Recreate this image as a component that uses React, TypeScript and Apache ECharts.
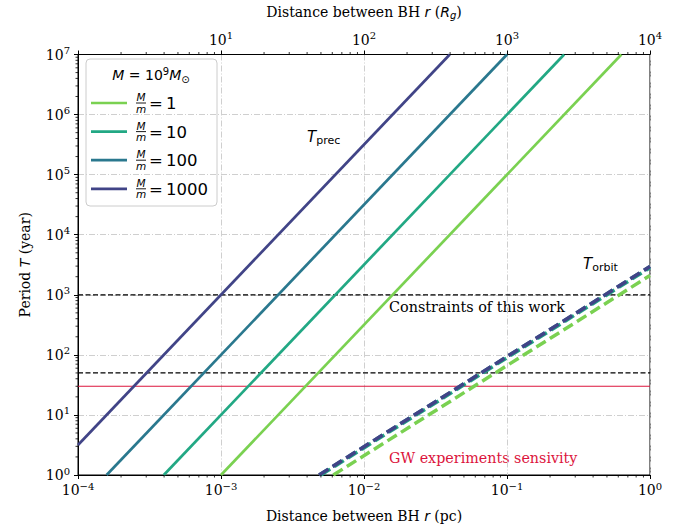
import React, { useEffect, useRef } from 'react';
import * as echarts from 'echarts';

// ---------- data ----------
const massRatios = ['1', '10', '100', '1000'];
const lineColors = ['#7ad151', '#22a884', '#2a788e', '#414487'];
// precession period lines (log-log straight lines): start / end points [r(pc), T(yr)]
const precStart = [[1e-3, 1], [3.98e-4, 1], [1.585e-4, 1], [1e-4, 3.16]];
const precEnd = [[0.631, 1e7], [0.251, 1e7], [0.1, 1e7], [0.0398, 1e7]];
// orbital period lines
const orbitStart = [[0.0061, 1], [0.005, 1], [0.00486, 1], [0.00485, 1]];
const orbitEnd = [[1, 2095], [1, 2824], [1, 2947], [1, 2962]];
// horizontal reference lines
const constraintLevels = [1000, 50];
const gwLevel = 30;
const xRange = [1e-4, 1];
const yRange = [1, 1e7];
const topRange = [1, 1e4];

const serif = 'DejaVu Serif';
const sans = 'DejaVu Sans';

const expLabel = (v: number, hideZero = false) => {
  const e = Math.round(Math.log10(v));
  if (hideZero && e === 0) return '';
  const s = e < 0 ? '\u2212' + Math.abs(e) : String(e);
  return `{b|10}{s|${s}}`;
};
const labelRich = {
  b: { fontFamily: serif, fontSize: 14, color: '#000', lineHeight: 18 },
  s: { fontFamily: serif, fontSize: 10, color: '#000', padding: [0, 0, 8, 0] },
};

function minorTicks() {
  const out: number[][] = [];
  const mult = [2, 3, 4, 5, 6, 7, 8, 9];
  for (let e = -4; e < 0; e++) {
    for (const m of mult) {
      const v = m * Math.pow(10, e);
      out.push([v, yRange[0], 0]);
      out.push([v, yRange[1], 1]);
    }
  }
  for (let e = 0; e < 7; e++) {
    for (const m of mult) out.push([xRange[0], m * Math.pow(10, e), 2]);
  }
  return out;
}

export default function App() {
  const ref = useRef<HTMLDivElement>(null);
  useEffect(() => {
    if (!ref.current) return;
    const chart = echarts.init(ref.current, undefined, { renderer: 'svg' });

    const series: any[] = [];
    const axisLineStyle = { color: '#000', width: 1 };
    const gridLine = { show: true, lineStyle: { color: '#cfcfcf', width: 1, type: [6, 2, 1, 2] } };

    // reference lines
    constraintLevels.forEach((lv) => {
      series.push({
        type: 'line', data: [[xRange[0], lv], [xRange[1], lv]], showSymbol: false, silent: true,
        lineStyle: { color: '#000', width: 1.3, type: [5, 2.5] }, z: 3,
      });
    });
    series.push({
      type: 'line', data: [[xRange[0], gwLevel], [xRange[1], gwLevel]], showSymbol: false, silent: true,
      lineStyle: { color: '#dc143c', width: 1.2 }, z: 3,
    });
    // precession
    massRatios.forEach((_, i) => {
      series.push({
        type: 'line', data: [precStart[i], precEnd[i]], showSymbol: false, silent: true,
        lineStyle: { color: lineColors[i], width: 2.7 }, z: 4,
      });
    });
    // orbit
    massRatios.forEach((_, i) => {
      series.push({
        type: 'line', data: [orbitStart[i], orbitEnd[i]], showSymbol: false, silent: true,
        lineStyle: { color: lineColors[i], width: 3.5, type: [11, 5] }, z: 4,
      });
    });
    // minor ticks
    series.push({
      type: 'custom', coordinateSystem: 'cartesian2d', clip: false, silent: true, z: 6,
      dimensions: ['x', 'y', 'k'], encode: { x: 0, y: 1 },
      data: minorTicks(),
      renderItem: (_p: any, api: any) => {
        const pt = api.coord([api.value(0), api.value(1)]);
        const k = api.value(2);
        let shape;
        if (k === 0) shape = { x1: pt[0], y1: pt[1], x2: pt[0], y2: pt[1] + 2.5 };
        else if (k === 1) shape = { x1: pt[0], y1: pt[1], x2: pt[0], y2: pt[1] - 2.5 };
        else shape = { x1: pt[0] - 2.5, y1: pt[1], x2: pt[0], y2: pt[1] };
        return { type: 'line', shape, style: { stroke: '#000', lineWidth: 0.8 } };
      },
    });

    // legend (manual)
    const legendChildren: any[] = [
      {
        type: 'rect', shape: { x: 86, y: 59, width: 131, height: 147, r: 4 },
        style: { fill: 'rgba(255,255,255,0.85)', stroke: '#cccccc', lineWidth: 1 },
      },
      {
        type: 'text', x: 151, y: 75,
        style: {
          text: '{i|M}{n| = 10}{sup|9}{i|M}{sub|\u2299}', align: 'center', verticalAlign: 'middle',
          rich: {
            i: { fontFamily: sans, fontStyle: 'italic', fontSize: 14, fill: '#000', lineHeight: 18 },
            n: { fontFamily: sans, fontSize: 14, fill: '#000', lineHeight: 18 },
            sup: { fontFamily: sans, fontSize: 10, fill: '#000', padding: [0, 0, 8, 0] },
            sub: { fontFamily: sans, fontSize: 10, fill: '#000', padding: [8, 0, 0, 0] },
          },
        },
      },
    ];
    massRatios.forEach((r, i) => {
      const y = 103 + i * 28.6;
      legendChildren.push(
        { type: 'line', shape: { x1: 91, y1: y, x2: 127, y2: y }, style: { stroke: lineColors[i], lineWidth: 2.7 } },
        { type: 'text', x: 141, y: y - 6, style: { text: 'M', fontFamily: sans, fontStyle: 'italic', fontSize: 10.5, fill: '#000', align: 'center', verticalAlign: 'middle' } },
        { type: 'line', shape: { x1: 136, y1: y, x2: 146, y2: y }, style: { stroke: '#000', lineWidth: 0.9 } },
        { type: 'text', x: 141, y: y + 5.5, style: { text: 'm', fontFamily: sans, fontStyle: 'italic', fontSize: 10.5, fill: '#000', align: 'center', verticalAlign: 'middle' } },
        { type: 'text', x: 149, y: y + 0.5, style: { text: '=', fontFamily: sans, fontSize: 16.5, fill: '#000', align: 'left', verticalAlign: 'middle' } },
        { type: 'text', x: 166, y: y + 0.5, style: { text: r, fontFamily: sans, fontSize: 16.5, fill: '#000', align: 'left', verticalAlign: 'middle' } },
      );
    });

    const subRich = {
      i: { fontFamily: sans, fontStyle: 'italic', fontSize: 15, fill: '#000', lineHeight: 19 },
      s: { fontFamily: sans, fontSize: 11, fill: '#000', padding: [7, 0, 0, 0] },
    };
    const annotations: any[] = [
      {
        type: 'text', x: 307, y: 137,
        style: { text: '{i|T}{s|prec}', align: 'left', verticalAlign: 'middle', rich: subRich },
      },
      {
        type: 'text', x: 583, y: 264,
        style: { text: '{i|T}{s|orbit}', align: 'left', verticalAlign: 'middle', rich: subRich },
      },
      {
        type: 'text', x: 389, y: 307,
        style: { text: 'Constraints of this work', fontFamily: serif, fontSize: 14.4, fill: '#000', align: 'left', verticalAlign: 'middle' },
      },
      {
        type: 'text', x: 389, y: 458,
        style: { text: 'GW experiments sensivity', fontFamily: serif, fontSize: 14.3, fill: '#dc143c', align: 'left', verticalAlign: 'middle' },
      },
    ];

    const nameRich = {
      i: { fontFamily: sans, fontStyle: 'italic', fontSize: 14, color: '#000' },
      sub: { fontFamily: sans, fontStyle: 'italic', fontSize: 10, color: '#000', padding: [7, 0, 0, 0] },
    };

    chart.setOption({
      animation: false,
      backgroundColor: '#fff',
      grid: { left: 78, right: 37, top: 48, bottom: 53, show: true, borderColor: '#000', borderWidth: 1, backgroundColor: 'transparent' },
      xAxis: [
        {
          type: 'log', logBase: 10, min: xRange[0], max: xRange[1], interval: 1, position: 'bottom',
          axisLine: { show: true, lineStyle: axisLineStyle },
          axisTick: { show: true, inside: false, length: 4, lineStyle: axisLineStyle },
          axisLabel: { formatter: (v: number) => expLabel(v), rich: labelRich, margin: 6, showMinLabel: true, showMaxLabel: true, hideOverlap: false },
          splitLine: gridLine,
          name: 'Distance between BH {i|r} (pc)', nameLocation: 'middle', nameGap: 34,
          nameTextStyle: { fontFamily: serif, fontSize: 14, color: '#000', rich: nameRich },
        },
        {
          type: 'log', logBase: 10, min: topRange[0], max: topRange[1], interval: 1, position: 'top',
          axisLine: { show: true, lineStyle: axisLineStyle },
          axisTick: { show: true, inside: false, length: 4, lineStyle: axisLineStyle },
          axisLabel: { formatter: (v: number) => expLabel(v, true), rich: labelRich, margin: 6, showMinLabel: true, showMaxLabel: true, hideOverlap: false },
          splitLine: { show: false },
          name: 'Distance between BH {i|r} ({i|R}{sub|g})', nameLocation: 'middle', nameGap: 34,
          nameTextStyle: { fontFamily: serif, fontSize: 14, color: '#000', rich: nameRich },
        },
      ],
      yAxis: {
        type: 'log', logBase: 10, min: yRange[0], max: yRange[1], interval: 1,
        axisLine: { show: true, lineStyle: axisLineStyle },
        axisTick: { show: true, inside: false, length: 4, lineStyle: axisLineStyle },
        axisLabel: { formatter: (v: number) => expLabel(v), rich: labelRich, margin: 8, showMinLabel: true, showMaxLabel: true, hideOverlap: false },
        splitLine: gridLine,
        name: 'Period {i|T} (year)', nameLocation: 'middle', nameGap: 46, nameRotate: 90,
        nameTextStyle: { fontFamily: serif, fontSize: 14, color: '#000', rich: nameRich },
      },
      graphic: [
        { type: 'group', children: annotations, z: 10 },
        { type: 'group', children: legendChildren, z: 20 },
      ],
      series,
    });
    return () => chart.dispose();
  }, []);
  return <div ref={ref} style={{ position: 'fixed', left: 0, top: 0, width: 687, height: 528, background: '#fff' }} />;
}
